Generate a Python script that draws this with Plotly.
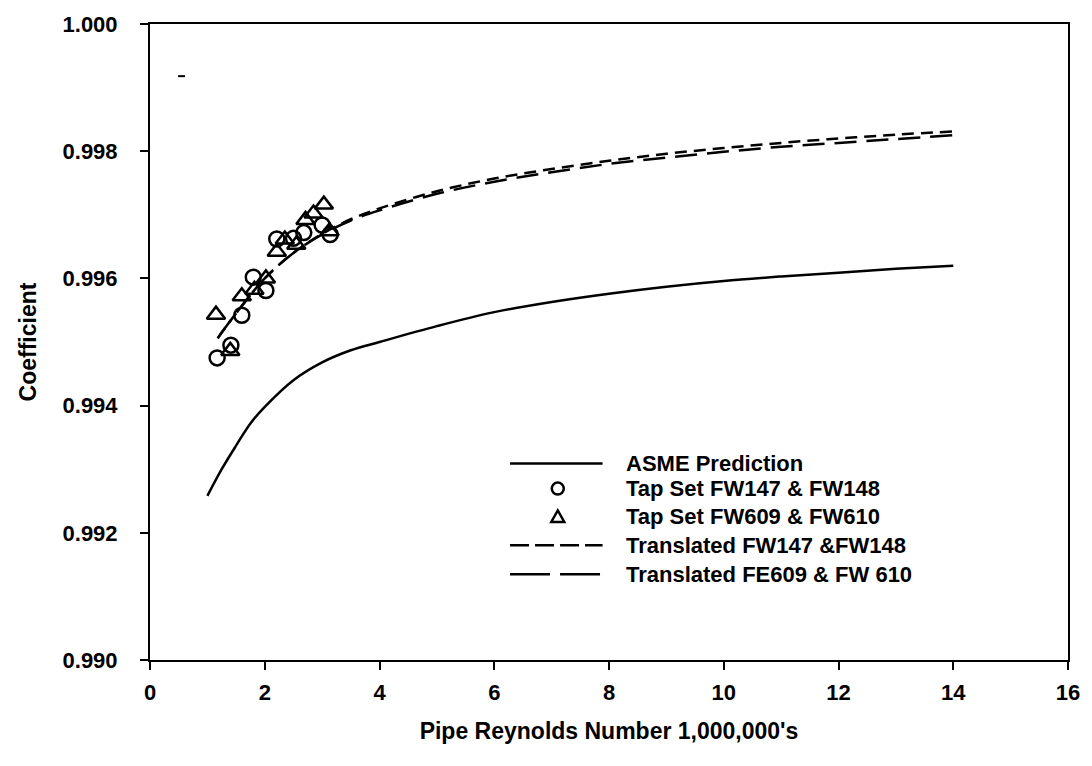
import plotly.graph_objects as go

# ---- data ----
asme_x = [1.0, 1.25, 1.5, 1.75, 2.0, 2.5, 3.0, 3.5, 4.0, 5.0, 6.0, 7.0, 8.0, 9.0, 10.0, 11.0, 12.0, 13.0, 14.0]
asme_y = [0.99258, 0.99300, 0.99337, 0.99372, 0.99398, 0.99440, 0.99468, 0.99487, 0.99500, 0.99525,
          0.99547, 0.99563, 0.99576, 0.99587, 0.99596, 0.99603, 0.99609, 0.99615, 0.99620]

fw147_x = [1.17, 1.41, 1.60, 1.80, 2.02, 2.21, 2.50, 2.68, 3.00, 3.14]
fw147_y = [0.99475, 0.99495, 0.99542, 0.99602, 0.99581, 0.99662, 0.99663, 0.99672, 0.99684, 0.99669]

fw609_x = [1.15, 1.40, 1.60, 1.82, 2.02, 2.21, 2.35, 2.55, 2.71, 2.85, 3.03, 3.13]
fw609_y = [0.99543, 0.99486, 0.99572, 0.99582, 0.99600, 0.99642, 0.99661, 0.99653, 0.99692, 0.99702, 0.99716, 0.99674]

trans147_x = [1.18, 1.5, 2.0, 2.5, 3.0, 3.5, 4.0, 5.0, 6.0, 7.0, 8.0, 9.0, 10.0, 11.0, 12.0, 13.0, 14.0]
trans147_y = [0.99506, 0.99545, 0.99600, 0.99640, 0.99670, 0.99693, 0.99710, 0.99737, 0.99757, 0.99772,
              0.99785, 0.99796, 0.99805, 0.99813, 0.99820, 0.99826, 0.99831]

trans609_x = [1.18, 1.5, 2.0, 2.5, 3.0, 3.5, 4.0, 5.0, 6.0, 7.0, 8.0, 9.0, 10.0, 11.0, 12.0, 13.0, 14.0]
trans609_y = [0.99506, 0.99545, 0.99600, 0.99640, 0.99669, 0.99691, 0.99707, 0.99733, 0.99752, 0.99767,
              0.99780, 0.99790, 0.99799, 0.99807, 0.99813, 0.99819, 0.99825]

stray_x = [0.55]
stray_y = [0.99918]

x_ticks = [0, 2, 4, 6, 8, 10, 12, 14, 16]
y_ticks = [0.990, 0.992, 0.994, 0.996, 0.998, 1.000]
y_tick_text = ["0.990", "0.992", "0.994", "0.996", "0.998", "1.000"]

legend_names = ["ASME Prediction", "Tap Set FW147 & FW148", "Tap Set FW609 & FW610",
                "Translated FW147 &FW148", "Translated FE609 & FW 610"]

FONT = "Liberation Sans, Arial, sans-serif"
BLACK = "#000000"

fig = go.Figure()
fig.add_trace(go.Scatter(x=asme_x, y=asme_y, mode="lines", line=dict(color=BLACK, width=2.5),
                         line_shape="spline", name=legend_names[0], showlegend=False))
fig.add_trace(go.Scatter(x=trans147_x, y=trans147_y, mode="lines",
                         line=dict(color=BLACK, width=2.5, dash="12px,7px"), line_shape="spline",
                         name=legend_names[3], showlegend=False))
fig.add_trace(go.Scatter(x=trans609_x, y=trans609_y, mode="lines",
                         line=dict(color=BLACK, width=2.5, dash="22px,10px"), line_shape="spline",
                         name=legend_names[4], showlegend=False))
fig.add_trace(go.Scatter(x=fw147_x, y=fw147_y, mode="markers",
                         marker=dict(symbol="circle-open", size=15, color=BLACK, line=dict(width=2.5, color=BLACK)),
                         name=legend_names[1], showlegend=False))
fig.add_trace(go.Scatter(x=fw609_x, y=fw609_y, mode="markers",
                         marker=dict(symbol="triangle-up-open", size=16, color=BLACK, line=dict(width=2.5, color=BLACK)),
                         name=legend_names[2], showlegend=False))
fig.add_trace(go.Scatter(x=stray_x, y=stray_y, mode="markers",
                         marker=dict(symbol="line-ew", size=5, color=BLACK, line=dict(width=2, color=BLACK)),
                         showlegend=False, hoverinfo="skip"))

# ---- manual legend (paper coordinates) ----
row_y = [0.3088, 0.2696, 0.2257, 0.1803, 0.1348]
lx0, lx1, sym_x, txt_x = 0.3922, 0.4930, 0.4442, 0.5168
shapes = []
shapes.append(dict(type="line", xref="paper", yref="paper", x0=lx0, x1=lx1, y0=row_y[0], y1=row_y[0],
                   line=dict(color=BLACK, width=2.5)))
shapes.append(dict(type="line", xref="paper", yref="paper", x0=lx0, x1=lx1, y0=row_y[3], y1=row_y[3],
                   line=dict(color=BLACK, width=2.5, dash="19px,6px")))
shapes.append(dict(type="line", xref="paper", yref="paper", x0=lx0, x1=lx1, y0=row_y[4], y1=row_y[4],
                   line=dict(color=BLACK, width=2.5, dash="40px,10px")))
shapes.append(dict(type="circle", xref="paper", yref="paper", xsizemode="pixel", ysizemode="pixel",
                   xanchor=sym_x, yanchor=row_y[1], x0=-6, x1=6, y0=-6, y1=6,
                   line=dict(color=BLACK, width=2.5)))
shapes.append(dict(type="path", xref="paper", yref="paper", xsizemode="pixel", ysizemode="pixel",
                   xanchor=sym_x, yanchor=row_y[2], path="M -6.5 -5.5 L 6.5 -5.5 L 0 6 Z",
                   line=dict(color=BLACK, width=2.5)))

annotations = []
for name, yy in zip(legend_names, row_y):
    annotations.append(dict(text="<b>" + name + "</b>", xref="paper", yref="paper", x=txt_x, y=yy,
                            xanchor="left", yanchor="middle", showarrow=False,
                            font=dict(family=FONT, size=22, color=BLACK)))

fig.update_layout(
    width=1092, height=766,
    margin=dict(l=150, r=19, t=22, b=106),
    paper_bgcolor="white", plot_bgcolor="white",
    font=dict(family=FONT, color=BLACK, size=18),
    shapes=shapes, annotations=annotations,
    showlegend=False,
)
fig.update_xaxes(range=[0, 16], tickvals=x_ticks, ticktext=["<b>%d</b>" % v for v in x_ticks],
                 ticks="outside", ticklen=8, tickwidth=2, tickcolor=BLACK,
                 showline=True, linewidth=2, linecolor=BLACK, mirror=True, showgrid=False, zeroline=False,
                 tickfont=dict(size=22, family=FONT), ticklabelstandoff=4,
                 title=dict(text="<b>Pipe Reynolds Number 1,000,000's</b>", font=dict(size=23, family=FONT),
                            standoff=18))
fig.update_yaxes(range=[0.990, 1.000], tickvals=y_ticks, ticktext=["<b>%s</b>" % t for t in y_tick_text],
                 ticks="outside", ticklen=8, tickwidth=2, tickcolor=BLACK,
                 showline=True, linewidth=2, linecolor=BLACK, mirror=True, showgrid=False, zeroline=False,
                 tickfont=dict(size=22, family=FONT), ticklabelstandoff=18,
                 title=dict(text="<b>Coefficient</b>", font=dict(size=23, family=FONT), standoff=19))

fig.write_html("out.html", config={"displayModeBar": False},
               post_script="document.body.style.margin='0';")
